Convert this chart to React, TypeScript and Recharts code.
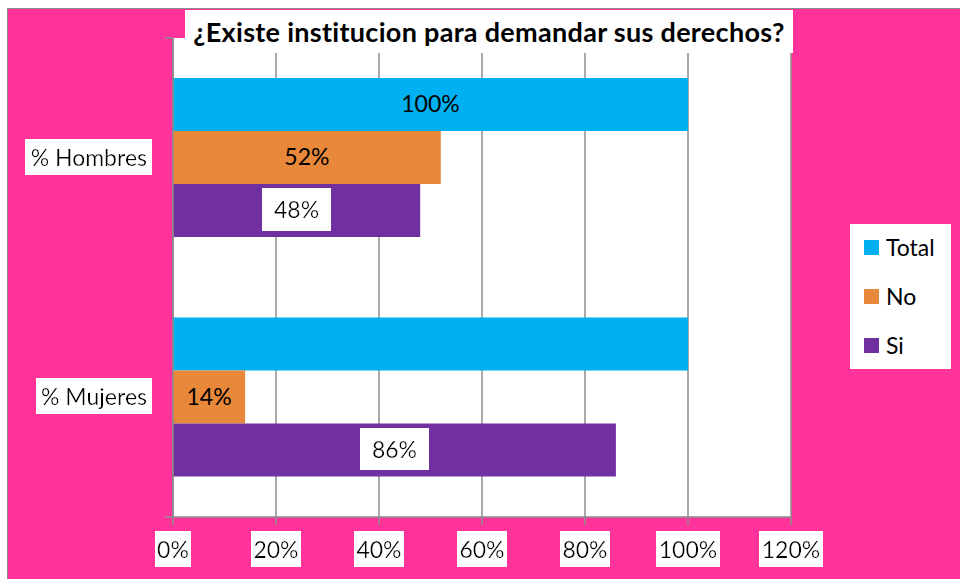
import { Bar, BarChart, CartesianGrid, LabelList, XAxis, YAxis } from 'recharts'

const categories = ['% Hombres', '% Mujeres']
const totalValues = [1, 1]
const noValues = [0.52, 0.14]
const siValues = [0.48, 0.86]
const totalLabelShown = [true, false]
const xTicks = [0, 0.2, 0.4, 0.6, 0.8, 1, 1.2]

const series = [
  { key: 'total', name: 'Total', color: '#00B0F0' },
  { key: 'no', name: 'No', color: '#E8883A' },
  { key: 'si', name: 'Si', color: '#7030A0' },
]

const chartData = categories.map((name, i) => ({
  name,
  total: totalValues[i],
  no: noValues[i],
  si: siValues[i],
}))

const FONT = 'Lato, "Noto Sans", sans-serif'
const GRID = '#8c8c8c'
const PINK = '#FF3399'

const pct = (v: number) => `${Math.round(v * 100)}%`

function XTick({ x, y, payload }: any) {
  return (
    <text x={x} y={y + 31} textAnchor="middle" fontFamily={FONT} fontSize={23} fill="#000" filter="url(#bgTight)">
      {pct(payload.value)}
    </text>
  )
}

function YTick({ x, y, payload }: any) {
  return (
    <text x={x - 1} y={y + 8} textAnchor="end" fontFamily={FONT} fontSize={23} fill="#000" filter="url(#bgTight)">
      {payload.value}
    </text>
  )
}

function EmptyTick() {
  return <g />
}

function makeLabel(withBox: boolean, shown?: boolean[]) {
  return function BarLabel(props: any) {
    const { x, y, width, height, value, index } = props
    if (shown && !shown[index]) return null
    return (
      <text
        x={x + width / 2}
        y={y + height / 2 + 8}
        textAnchor="middle"
        fontFamily={FONT}
        fontSize={23}
        fill="#000"
        filter={withBox ? 'url(#bgWide)' : undefined}
      >
        {pct(value)}
      </text>
    )
  }
}

export default function App() {
  return (
    <div style={{ position: 'absolute', left: 0, top: 0, width: 960, height: 579, background: '#fff', overflow: 'hidden' }}>
      <div
        style={{
          position: 'absolute',
          left: 7,
          top: 8,
          width: 960,
          height: 579,
          background: PINK,
          borderTop: `1.5px solid ${GRID}`,
          borderLeft: `1.5px solid ${GRID}`,
        }}
      />
      <div style={{ position: 'absolute', left: 0, top: 0 }}>
        <BarChart
          width={960}
          height={579}
          data={chartData}
          layout="vertical"
          margin={{ top: 38, right: 169, bottom: 22, left: 0 }}
          barCategoryGap="16.7%"
          barGap={0}
        >
          <defs>
            <filter id="bgTight" x="-0.04" y="-0.12" width="1.08" height="1.24">
              <feFlood floodColor="#fff" />
              <feComposite in="SourceGraphic" operator="over" />
            </filter>
            <filter id="bgWide" x="-0.26" y="-0.24" width="1.52" height="1.48">
              <feFlood floodColor="#fff" />
              <feComposite in="SourceGraphic" operator="over" />
            </filter>
          </defs>
          <CartesianGrid horizontal={false} fill="#fff" stroke={GRID} strokeWidth={1.5} />
          <XAxis
            type="number"
            domain={[0, 1.2]}
            ticks={xTicks}
            interval={0}
            height={40}
            tickSize={8}
            tickMargin={2}
            stroke={GRID}
            strokeWidth={1.5}
            tick={<XTick />}
          />
          <YAxis
            yAxisId="aMarks"
            type="number"
            domain={[0, 2]}
            ticks={[0, 1, 2]}
            interval={0}
            width={8}
            tickSize={8}
            tick={<EmptyTick />}
            axisLine={{ stroke: GRID, strokeWidth: 1.5 }}
            tickLine={{ stroke: GRID, strokeWidth: 1.5 }}
          />
          <YAxis
            yAxisId="bCat"
            type="category"
            dataKey="name"
            width={165}
            tickLine={false}
            axisLine={false}
            tickSize={0}
            tickMargin={17}
            tick={<YTick />}
          />
          <Bar yAxisId="bCat" dataKey="total" fill={series[0].color} isAnimationActive={false}>
            <LabelList dataKey="total" content={makeLabel(false, totalLabelShown)} />
          </Bar>
          <Bar yAxisId="bCat" dataKey="no" fill={series[1].color} isAnimationActive={false}>
            <LabelList dataKey="no" content={makeLabel(false)} />
          </Bar>
          <Bar yAxisId="bCat" dataKey="si" fill={series[2].color} isAnimationActive={false}>
            <LabelList dataKey="si" content={makeLabel(true)} />
          </Bar>
        </BarChart>
      </div>
      <div
        style={{
          position: 'absolute',
          left: 185,
          top: 10,
          width: 608,
          height: 43,
          background: '#fff',
          fontFamily: FONT,
          fontWeight: 700,
          fontSize: 27,
          letterSpacing: 0.3,
          lineHeight: '43px',
          textAlign: 'center',
          color: '#000',
          whiteSpace: 'nowrap',
        }}
      >
        ¿Existe institucion para demandar sus derechos?
      </div>
      <div
        style={{
          position: 'absolute',
          left: 850,
          top: 224,
          width: 101,
          height: 145,
          background: '#fff',
          fontFamily: FONT,
          fontSize: 23,
          color: '#000',
        }}
      >
        {series.map((s, i) => (
          <div key={s.key} style={{ position: 'absolute', left: 14, top: 9 + i * 49, height: 28, display: 'flex', alignItems: 'center' }}>
            <span style={{ width: 15, height: 15, background: s.color, display: 'inline-block', marginRight: 7 }} />
            <span>{s.name}</span>
          </div>
        ))}
      </div>
    </div>
  )
}
